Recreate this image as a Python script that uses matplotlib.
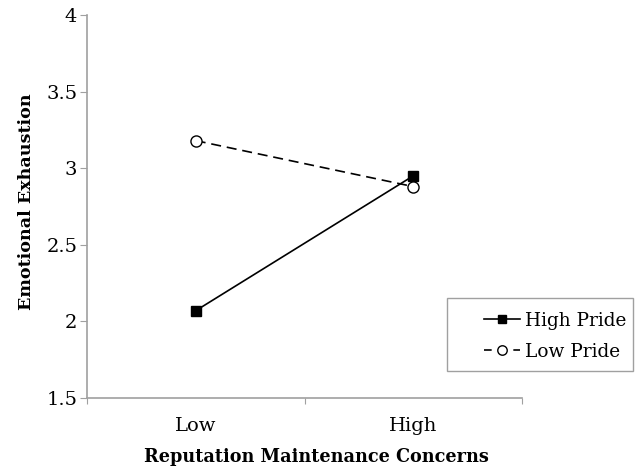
import matplotlib.pyplot as plt
from matplotlib.patches import Rectangle
import numpy as np

plt.rcParams['font.family'] = ['DejaVu Serif']

categories = ['Low', 'High']
high_pride = [2.07, 2.95]
low_pride = [3.18, 2.88]
y_ticks = [1.5, 2, 2.5, 3, 3.5, 4]

fig = plt.figure(figsize=(6.39, 4.70), dpi=100)
ax = fig.add_axes([87 / 639, 72 / 470, 435 / 639, 383 / 470])

x = np.arange(len(categories)) + 0.5

ax.plot(x, high_pride, color='black', lw=1.2, marker='s', ms=7,
        mfc='black', mec='black', label='High Pride')
ax.plot(x, low_pride, color='black', lw=1.2, ls=(0, (6, 3.5)), marker='o', ms=8,
        mfc='white', mec='black', label='Low Pride')

ax.set_xlim(0, 2)
ax.set_ylim(1.5, 4)
ax.set_yticks(y_ticks)
ax.set_yticklabels(['1.5', '2', '2.5', '3', '3.5', '4'])
ax.set_xticks([0, 1, 2])
ax.set_xticklabels(['', '', ''])
ax.set_xticks(x, minor=True)
ax.set_xticklabels(categories, minor=True)
ax.tick_params(axis='x', which='minor', length=0, pad=14, labelsize=14)
ax.tick_params(axis='x', which='major', length=4, color='#a0a0a0')
ax.tick_params(axis='y', length=5, color='#a0a0a0', labelsize=14, pad=2)

for s in ['top', 'right']:
    ax.spines[s].set_visible(False)
for s in ['left', 'bottom']:
    ax.spines[s].set_color('#a0a0a0')
    ax.spines[s].set_linewidth(1.2)

ax.set_ylabel('Emotional Exhaustion', fontsize=12.6, fontweight='bold')
ax.set_xlabel('Reputation Maintenance Concerns', fontsize=12.7, fontweight='bold')
ax.yaxis.set_label_coords(-0.12, 0.513)
ax.xaxis.set_label_coords(0.527, -0.13)

# legend without its own frame, boxed by a gray rectangle like the original
leg = ax.legend(loc='upper left', bbox_to_anchor=(478 / 639, 164 / 470),
                bbox_transform=fig.transFigure, fontsize=13.3, frameon=False,
                handlelength=2.0, handletextpad=0.25, borderpad=0.3,
                labelspacing=0.72, borderaxespad=0, markerscale=0.85)
# "- o -" look for the dashed entry
leg.get_lines()[1].set_linestyle((0, (4.6, 13.0)))
fig.patches.append(Rectangle((447 / 639, 99 / 470), 186 / 639, 73 / 470,
                             transform=fig.transFigure, fill=False,
                             edgecolor='#a0a0a0', lw=1.0))

fig.savefig('out.png', dpi=100)
